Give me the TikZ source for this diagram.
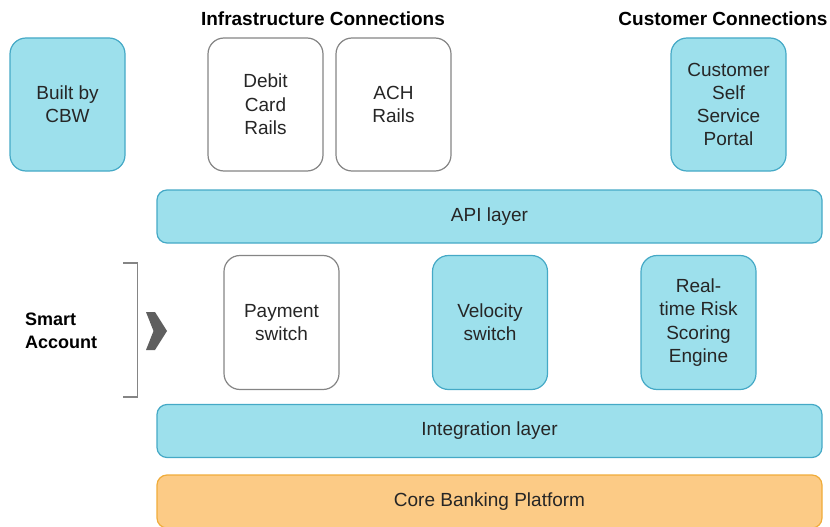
\documentclass[tikz,border=0pt]{standalone}
\usepackage{fontspec}
\setmainfont{Liberation Sans}
\definecolor{cyanfill}{HTML}{9DE0EC}
\definecolor{cyanline}{HTML}{45A9C6}
\definecolor{greyline}{HTML}{858585}
\definecolor{orangefill}{HTML}{FCCB86}
\definecolor{orangeline}{HTML}{F0AC3A}
\definecolor{txt}{HTML}{262626}
\definecolor{chev}{HTML}{5F5F5F}

\begin{document}
\begin{tikzpicture}[x=1pt,y=-1pt,
  base/.style={draw, inner sep=0pt, line width=1.2pt, align=center, text=txt,
    font=\fontsize{19}{23.3}\selectfont},
  tile/.style={base, rounded corners=16pt, minimum width=115pt, minimum height=133pt},
  bluetile/.style={tile, fill=cyanfill, draw=cyanline},
  whitetile/.style={tile, fill=white, draw=greyline},
  layer/.style={base, rounded corners=10pt, minimum width=665pt, minimum height=53pt},
  bluelayer/.style={layer, fill=cyanfill, draw=cyanline},
  orangelayer/.style={layer, fill=orangefill, draw=orangeline},
  heading/.style={font=\fontsize{19}{23}\selectfont\bfseries, text=black, inner sep=0pt},
]
\useasboundingbox (0,0) rectangle (830,527);

% headings
\node[heading] (infra) at (323,19) {Infrastructure Connections};
\node[heading] (cust) at (723,19) {Customer Connections};

% top row
\node[bluetile]  (cbw)    at (67.5,104.5)  {Built by\\CBW};
\node[whitetile] (debit)  at (265.5,104.5) {Debit\\Card\\Rails};
\node[whitetile] (ach)    at (393.5,104.5) {ACH\\Rails};
\node[bluetile]  (portal) at (728.5,104.5) {Customer\\Self\\Service\\Portal};

% API layer
\node[bluelayer] (api) at (489.5,216.5) {API layer};

% smart account components
\node[whitetile, minimum height=134pt] (payment)  at (281.5,322.5) {Payment\\switch};
\node[bluetile,  minimum height=134pt] (velocity) at (490,322.5)   {Velocity\\switch};
\node[bluetile,  minimum height=134pt] (risk)     at (698.5,322.5) {Real-\\time Risk\\Scoring\\Engine};

% lower layers
\node[bluelayer]   (integ) at (489.5,431) {Integration layer};
\node[orangelayer] (core)  at (489.5,501.5) {Core Banking Platform};

% smart account label with bracket and chevron
\node[heading, font=\fontsize{18}{23}\selectfont\bfseries, align=left, anchor=west] (smart) at (25,330.5) {Smart\\Account};
\draw[greyline, line width=1.2pt] (123,263) -- (137.5,263) -- (137.5,397) -- (123,397);
\fill[chev] (146,312) -- (155,312) -- (167,331) -- (155,350) -- (146,350) -- (153.5,331) -- cycle;
\end{tikzpicture}
\end{document}
